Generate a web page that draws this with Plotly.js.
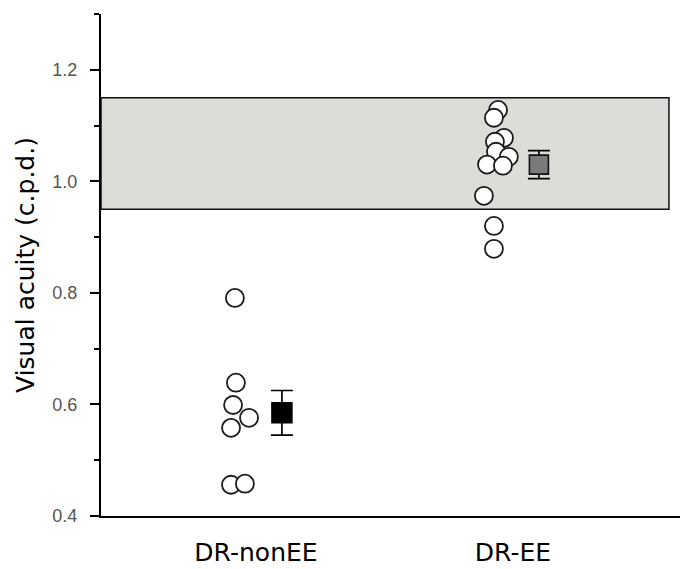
<!DOCTYPE html>
<html>
<head>
<meta charset="utf-8">
<script src="https://cdn.plot.ly/plotly-3.0.1.min.js"></script>
<style>
  html, body { margin: 0; padding: 0; background: #fff; }
  #chart { width: 680px; height: 569px; }
</style>
</head>
<body>
<div id="chart"></div>
<script>
// Groups and their category positions on the x axis
const groups = ['DR-nonEE', 'DR-EE'];
const groupPos = [1, 2];

// Individual visual acuity values (c.p.d.) per animal
const nonEEValues = [0.791, 0.639, 0.599, 0.576, 0.558, 0.456, 0.458];
const nonEEJitter = [-0.082, -0.078, -0.089, -0.027, -0.097, -0.097, -0.043];
const eeValues = [1.128, 1.114, 1.078, 1.071, 1.053, 1.044, 1.030, 1.028, 0.974, 0.920, 0.879];
const eeJitter = [-0.058, -0.074, -0.035, -0.070, -0.066, -0.016, -0.101, -0.039, -0.113, -0.074, -0.074];

// Group means and standard errors
const groupMeans = [0.585, 1.030];
const groupSE = [0.040, 0.025];
const meanOffset = 0.101;

// Normal visual acuity range (shaded band)
const normalRange = [0.95, 1.15];

// Y axis ticks
const yTicks = [0.4, 0.6, 0.8, 1.0, 1.2];
const yRange = [0.4, 1.3];
const xRange = [0.397, 2.65];

const circleMarker = {
  symbol: 'circle',
  size: 18,
  color: '#ffffff',
  line: { color: '#1a1a1a', width: 1.8 }
};

const traces = [
  {
    type: 'scatter', mode: 'markers',
    x: nonEEValues.map((v, i) => groupPos[0] + nonEEJitter[i]),
    y: nonEEValues,
    marker: circleMarker,
    hoverinfo: 'y', showlegend: false
  },
  {
    type: 'scatter', mode: 'markers',
    x: eeValues.map((v, i) => groupPos[1] + eeJitter[i]),
    y: eeValues,
    marker: circleMarker,
    hoverinfo: 'y', showlegend: false
  },
  {
    type: 'scatter', mode: 'markers',
    x: [groupPos[0] + meanOffset],
    y: [groupMeans[0]],
    error_y: { type: 'data', array: [groupSE[0]], visible: true, color: '#000', thickness: 1.7, width: 11 },
    marker: { symbol: 'square', size: 20, color: '#000000', line: { color: '#000', width: 1.5 } },
    showlegend: false
  },
  {
    type: 'scatter', mode: 'markers',
    x: [groupPos[1] + meanOffset],
    y: [groupMeans[1]],
    error_y: { type: 'data', array: [groupSE[1]], visible: true, color: '#000', thickness: 1.7, width: 11 },
    marker: { symbol: 'square', size: 19, color: '#7a7a7a', line: { color: '#111', width: 1.6 } },
    showlegend: false
  }
];

const layout = {
  width: 680, height: 569,
  margin: { l: 101, r: 0, t: 14, b: 53 },
  paper_bgcolor: '#fff',
  plot_bgcolor: '#fff',
  showlegend: false,
  xaxis: {
    range: xRange,
    tickmode: 'array',
    tickvals: groupPos,
    ticktext: groups,
    ticks: '',
    ticklabelstandoff: 13,
    tickfont: { family: 'DejaVu Sans', size: 25, color: '#000' },
    showgrid: false, zeroline: false,
    showline: true, linecolor: '#000', linewidth: 2,
    fixedrange: true
  },
  yaxis: {
    range: yRange,
    tickmode: 'array',
    tickvals: yTicks,
    tickformat: '.1f',
    ticks: 'outside', ticklen: 9, tickwidth: 2, tickcolor: '#000',
    minor: { dtick: 0.1, tick0: 0.4, ticks: 'outside', ticklen: 5, tickwidth: 2, tickcolor: '#000', showgrid: false },
    ticklabelstandoff: 9,
    tickfont: { family: 'Liberation Sans', size: 18, color: '#555' },
    showgrid: false, zeroline: false,
    showline: true, linecolor: '#000', linewidth: 2,
    title: {
      text: 'Visual acuity (c.p.d.)',
      font: { family: 'DejaVu Sans', size: 25, color: '#000' },
      standoff: 11
    },
    fixedrange: true
  },
  shapes: [
    {
      type: 'rect', layer: 'below',
      xref: 'x', yref: 'y',
      x0: xRange[0], x1: 2.607,
      y0: normalRange[0], y1: normalRange[1],
      fillcolor: '#dcdcd8',
      line: { color: '#111', width: 1.5 }
    }
  ]
};

Plotly.newPlot('chart', traces, layout, { displayModeBar: false, staticPlot: true });
</script>
</body>
</html>
